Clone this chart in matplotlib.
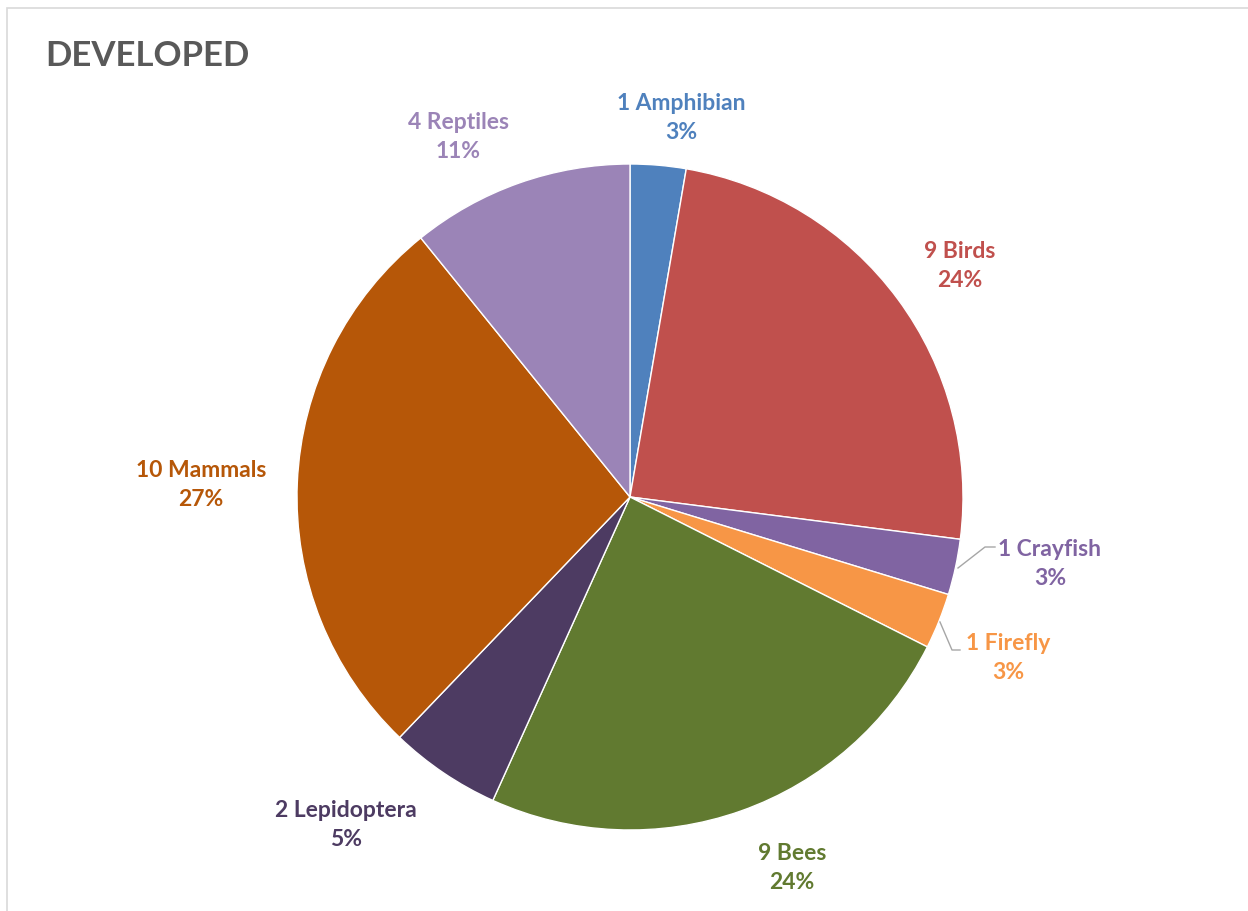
import matplotlib.pyplot as plt
from matplotlib.patches import Rectangle

plt.rcParams['font.family'] = ['Lato', 'DejaVu Sans']

# data
animals = ['Amphibian', 'Birds', 'Crayfish', 'Firefly', 'Bees', 'Lepidoptera', 'Mammals', 'Reptiles']
counts = [1, 9, 1, 1, 9, 2, 10, 4]
colors = ['#4F81BD', '#C0504D', '#8064A2', '#F79646', '#617A30', '#4D3B62', '#B65708', '#9B84B7']

# label centres in pixel coords (x, y from top)
label_pos = [(681, 118), (960, 266), (1050, 564), (1008, 658),
             (792, 868), (346, 825), (201, 485), (458, 137)]

W, H = 1248, 911
fig = plt.figure(figsize=(W / 100, H / 100), dpi=100)
ax = fig.add_axes([0, 0, 1, 1])

cx, cy, r = 630, H - 497, 333
ax.pie(counts, colors=colors, startangle=90, counterclock=False,
       center=(cx, cy), radius=r, frame=True,
       wedgeprops=dict(edgecolor='white', linewidth=1.0))
ax.set_xlim(0, W)
ax.set_ylim(0, H)
ax.set_aspect('equal')
ax.axis('off')

# chart frame
ax.add_patch(Rectangle((7, -5), W, H - 8 + 5, fill=False, edgecolor='#D9D9D9', lw=1.2))

total = sum(counts)
for name, n, c, (lx, ly) in zip(animals, counts, colors, label_pos):
    pct = round(100 * n / total)
    ax.text(lx, H - ly, f'{n} {name}\n{pct}%', color=c, fontsize=16.5,
            fontweight='bold', ha='center', va='center', linespacing=1.5)

# leader lines for the small slices
ax.plot([958, 985, 995], [H - 568, H - 547, H - 547], color='#A6A6A6', lw=1)
ax.plot([940, 952, 960], [H - 622, H - 650, H - 650], color='#A6A6A6', lw=1)

ax.text(45, H - 56, 'DEVELOPED', color='#595959', fontsize=25,
        fontweight='bold', ha='left', va='center')

fig.savefig('out.png', dpi=100)
